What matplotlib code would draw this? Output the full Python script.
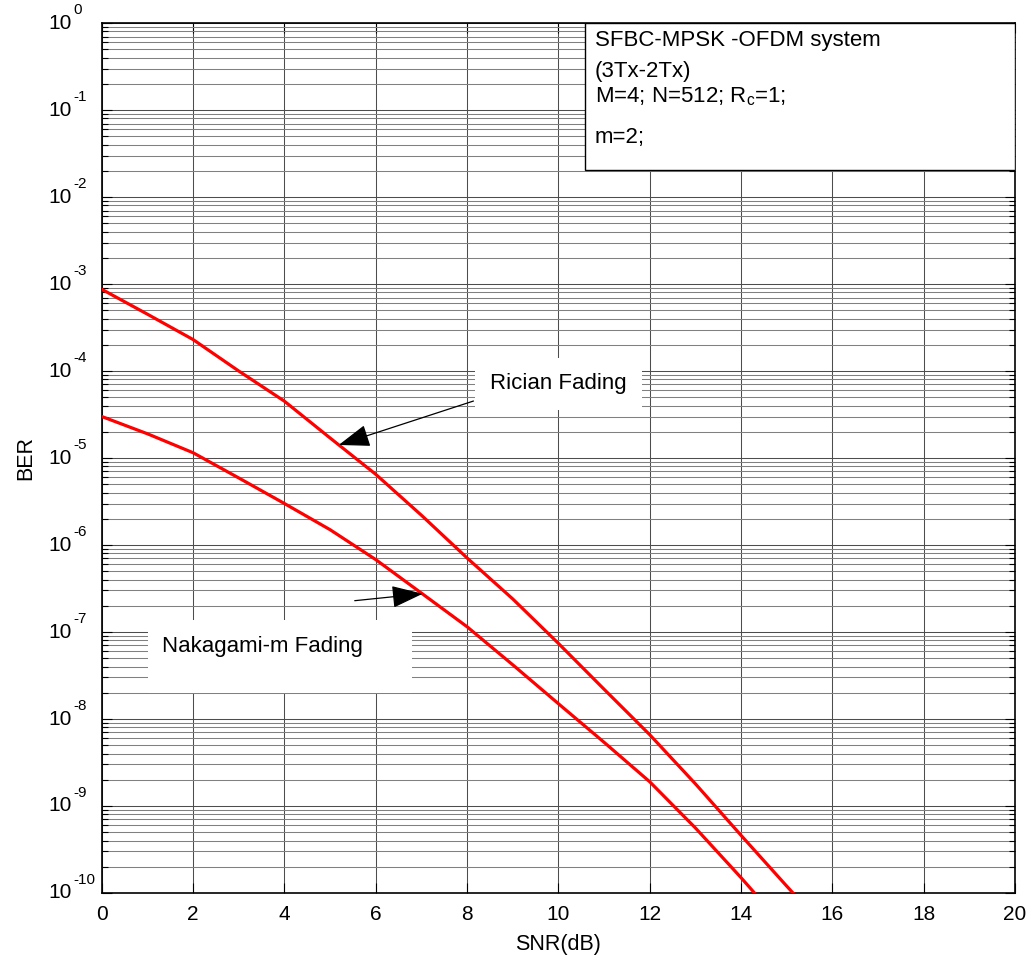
import numpy as np
import matplotlib
matplotlib.use("Agg")
import matplotlib.pyplot as plt
import matplotlib.transforms as mtransforms
from matplotlib.patches import Rectangle
from matplotlib.ticker import LogLocator, NullFormatter

plt.rcParams['font.family'] = ['Liberation Sans', 'DejaVu Sans']
plt.rcParams['mathtext.fontset'] = 'custom'
plt.rcParams['mathtext.rm'] = 'Liberation Sans'
plt.rcParams['mathtext.it'] = 'Liberation Sans:italic'

# BER curves read per dB step
snr_rician = [0, 1, 2, 3, 4, 5, 6, 7, 8, 9, 10, 11, 12, 13, 14, 15, 16]
ber_rician = [8.7e-4, 4.5e-4, 2.3e-4, 1.0e-4, 4.5e-5, 1.7e-5, 6.5e-6, 2.2e-6,
              7.1e-7, 2.4e-7, 7.4e-8, 2.2e-8, 6.6e-9, 1.8e-9, 4.6e-10,
              1.2e-10, 3.2e-11]

snr_naka = [0, 1, 2, 3, 4, 5, 6, 7, 8, 9, 10, 11, 12, 13, 14, 15]
ber_naka = [3.0e-5, 1.9e-5, 1.15e-5, 5.9e-6, 3.0e-6, 1.5e-6, 6.8e-7, 2.8e-7,
            1.15e-7, 4.2e-8, 1.5e-8, 5.4e-9, 1.9e-9, 5.6e-10, 1.5e-10, 3.8e-11]

decades = list(range(-10, 1))

info_lines = ["SFBC-MPSK -OFDM system", "(3Tx-2Tx)",
              r"M=4; N=512; R$_{\mathrm{c}}$=1;", "m=2;"]

fig = plt.figure(figsize=(10.33, 9.6), dpi=100)
ax = fig.add_axes([0.0985, 0.0698, 0.8841, 0.9062])

ax.semilogy(snr_rician, ber_rician, color='red', lw=2.3, zorder=4)
ax.semilogy(snr_naka, ber_naka, color='red', lw=2.3, zorder=4)

ax.set_xlim(0, 20)
ax.set_ylim(1e-10, 1e0)
ax.set_xticks(np.arange(0, 21, 2))
ax.set_yticks([10.0 ** d for d in decades])
ax.yaxis.set_minor_locator(LogLocator(base=10, subs=np.arange(2, 10), numticks=200))
ax.yaxis.set_minor_formatter(NullFormatter())
ax.set_yticklabels([])

ax.grid(True, which='major', color='0.3', lw=0.75)
ax.grid(True, which='minor', axis='y', color='0.5', lw=0.75)
ax.set_axisbelow(True)

ax.tick_params(which='both', direction='in', top=True, right=True,
               labelsize=15, width=0.8)
ax.tick_params(which='major', length=7)
ax.tick_params(which='minor', length=4)
ax.tick_params(axis='x', pad=9)
for s in ax.spines.values():
    s.set_linewidth(1.2)

# y labels: "10" with a raised exponent, base aligned on every row
base_tr = mtransforms.blended_transform_factory(ax.transAxes, ax.transData)
sup_tr = mtransforms.offset_copy(base_tr, fig=fig, x=0, y=9.5, units='points')
for d in decades:
    ax.text(-0.0325, 10.0 ** d, '10', transform=base_tr, fontsize=15,
            ha='right', va='center', clip_on=False)
    ax.text(-0.0315, 10.0 ** d, str(d), transform=sup_tr, fontsize=11,
            ha='left', va='center', clip_on=False)

ax.set_xlabel('SNR(dB)', fontsize=15.5, labelpad=7)
ax.set_ylabel('BER', fontsize=15.5)
ax.yaxis.set_label_coords(-0.072, 0.5)

# parameter box, top right
ax.add_patch(Rectangle((0.529, 0.831), 0.471, 0.169, transform=ax.transAxes,
                       facecolor='white', edgecolor='black', lw=1.0, zorder=5))
for txt, yy in zip(info_lines, [0.980, 0.944, 0.915, 0.869]):
    ax.text(0.540, yy, txt, transform=ax.transAxes, fontsize=16,
            va='center', ha='left', zorder=6)

# curve labels on white patches
ax.add_patch(Rectangle((0.4087, 0.555), 0.183, 0.060, transform=ax.transAxes,
                       facecolor='white', edgecolor='none', zorder=3))
ax.text(0.4996, 0.586, 'Rician Fading', transform=ax.transAxes, fontsize=16,
        ha='center', va='center', zorder=6)
ax.add_patch(Rectangle((0.0507, 0.230), 0.289, 0.084, transform=ax.transAxes,
                       facecolor='white', edgecolor='none', zorder=3))
ax.text(0.066, 0.2828, 'Nakagami-m Fading', transform=ax.transAxes, fontsize=16,
        ha='left', va='center', zorder=6)

arrow = dict(arrowstyle='-|>,head_length=1.4,head_width=0.5', color='black',
             lw=0.9, shrinkA=0, shrinkB=0, mutation_scale=14)
ax.annotate('', xy=(5.19, 10 ** -4.85), xytext=(8.14, 10 ** -4.345),
            arrowprops=arrow, zorder=6)
ax.annotate('', xy=(7.03, 10 ** -6.56), xytext=(5.54, 10 ** -6.64),
            arrowprops=arrow, zorder=6)

fig.savefig('out.png', dpi=100, facecolor='white')
